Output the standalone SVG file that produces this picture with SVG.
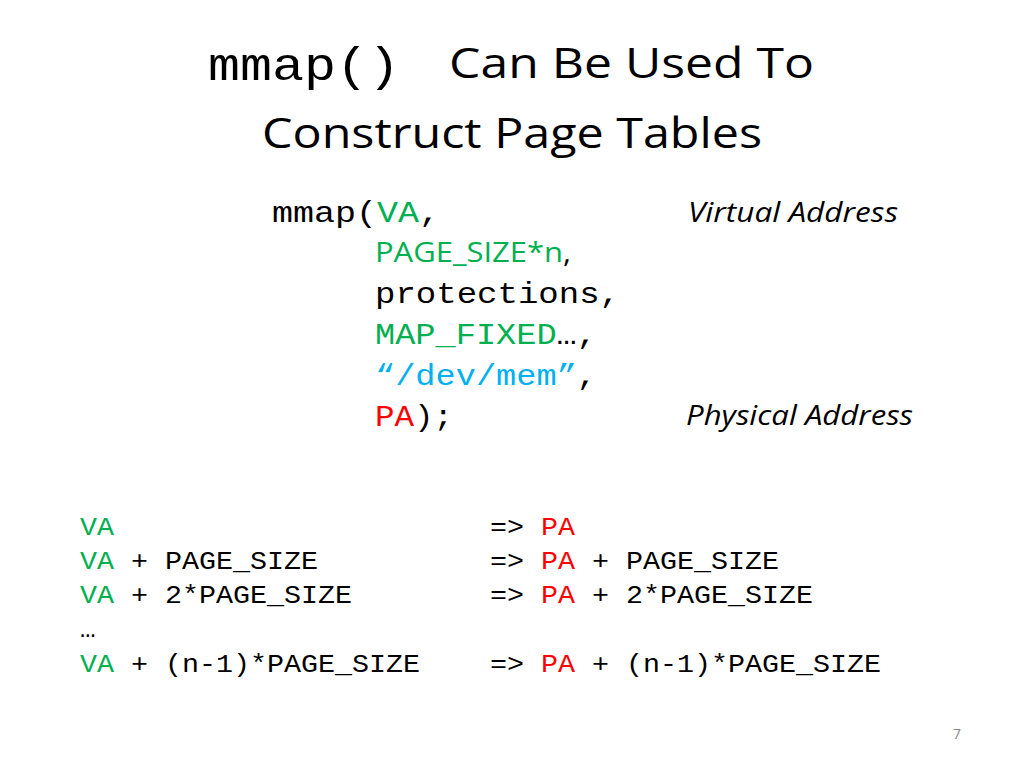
<svg xmlns="http://www.w3.org/2000/svg" width="1024" height="768" viewBox="0 0 1024 768">
<style>
.m{font-family:"Liberation Mono",monospace;fill:#000}
.s{font-family:"Open Sans","Liberation Sans",sans-serif;fill:#000}
.g{fill:#00B050}.b{fill:#00B0F0}.r{fill:#FF0000}
</style>
<rect width="1024" height="768" fill="#fff"/>
<g id="title">
<text class="m" x="208" y="80" font-size="46" textLength="192" lengthAdjust="spacingAndGlyphs">mmap()</text>
<text class="s" x="449" y="78" font-size="42" textLength="365" lengthAdjust="spacingAndGlyphs">Can Be Used  To</text>
<text class="s" x="262" y="148" font-size="42" textLength="500" lengthAdjust="spacingAndGlyphs">Construct Page Tables</text>
</g>
<g id="call">
<text class="m" x="272" y="222" font-size="29" textLength="168" lengthAdjust="spacingAndGlyphs">mmap(<tspan class="g">VA</tspan>,</text>
<text class="s" x="375" y="262" font-size="28" textLength="196" lengthAdjust="spacingAndGlyphs"><tspan class="g">PAGE_SIZE*n</tspan>,</text>
<text class="m" x="375" y="303" font-size="29" textLength="245" lengthAdjust="spacingAndGlyphs">protections,</text>
<text class="m" x="375" y="344" font-size="29" textLength="222" lengthAdjust="spacingAndGlyphs"><tspan class="g">MAP_FIXED</tspan>…,</text>
<text class="m" x="375" y="385" font-size="29" textLength="222" lengthAdjust="spacingAndGlyphs"><tspan class="b">“/dev/mem”</tspan>,</text>
<text class="m" x="375" y="426" font-size="29" textLength="78" lengthAdjust="spacingAndGlyphs"><tspan class="r">PA</tspan>);</text>
<text class="s" x="688" y="222" font-size="27" font-style="italic" textLength="210" lengthAdjust="spacingAndGlyphs">Virtual Address</text>
<text class="s" x="686" y="425" font-size="27" font-style="italic" textLength="227" lengthAdjust="spacingAndGlyphs">Physical Address</text>
</g>
<g id="table" font-size="26">
<text class="m g" x="80" y="535" textLength="34" lengthAdjust="spacingAndGlyphs">VA</text>
<text class="m" x="80" y="569" textLength="238" lengthAdjust="spacingAndGlyphs"><tspan class="g">VA</tspan> + PAGE_SIZE</text>
<text class="m" x="80" y="603" textLength="272" lengthAdjust="spacingAndGlyphs"><tspan class="g">VA</tspan> + 2*PAGE_SIZE</text>
<text class="m" x="80" y="637">…</text>
<text class="m" x="80" y="672" textLength="340" lengthAdjust="spacingAndGlyphs"><tspan class="g">VA</tspan> + (n-1)*PAGE_SIZE</text>
<text class="m" x="490" y="535" textLength="85" lengthAdjust="spacingAndGlyphs">=&gt; <tspan class="r">PA</tspan></text>
<text class="m" x="490" y="569" textLength="289" lengthAdjust="spacingAndGlyphs">=&gt; <tspan class="r">PA</tspan> + PAGE_SIZE</text>
<text class="m" x="490" y="603" textLength="323" lengthAdjust="spacingAndGlyphs">=&gt; <tspan class="r">PA</tspan> + 2*PAGE_SIZE</text>
<text class="m" x="490" y="672" textLength="391" lengthAdjust="spacingAndGlyphs">=&gt; <tspan class="r">PA</tspan> + (n-1)*PAGE_SIZE</text>
</g>
<text class="s" x="953" y="739" font-size="14" style="fill:#888">7</text>
</svg>
